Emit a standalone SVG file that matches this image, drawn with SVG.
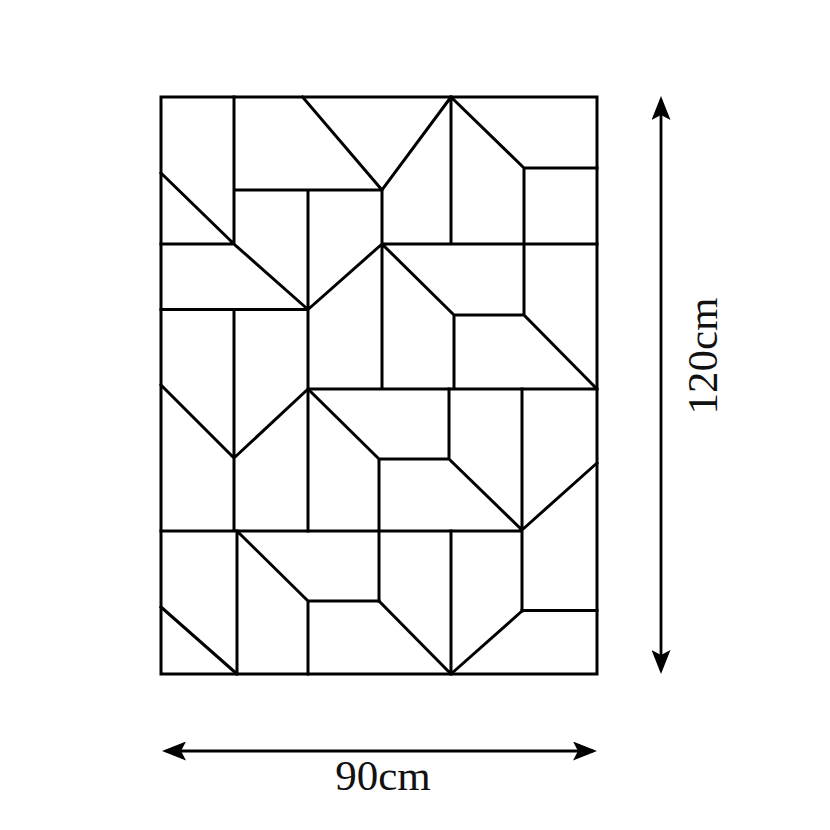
<svg xmlns="http://www.w3.org/2000/svg" width="830" height="830" viewBox="0 0 830 830">
<style>
.g{fill:none;stroke:#000;stroke-width:3;stroke-linecap:square;stroke-linejoin:miter}
.dim{fill:none;stroke:#000;stroke-width:2.8}
.lbl{font-family:"Liberation Serif","Times New Roman",serif;font-size:43px;fill:#111;text-anchor:middle}
</style>
<defs>
<marker id="ah" viewBox="0 0 24 19" refX="20" refY="9.5" markerWidth="24" markerHeight="19" markerUnits="userSpaceOnUse" orient="auto-start-reverse">
<path d="M0,0 L24,9.5 L0,19 L5,9.5 Z" fill="#000"/>
</marker>
</defs>
<rect width="830" height="830" fill="#fff"/>
<g id="pattern" class="g">
<rect x="161" y="97" width="436" height="577"/>
<path d="M234,97V244 M302.5,97L382,190 M234,190H382 M308,190V531 M161,173L234,244 M161,244H234 M234,244L308,309.5 M161,309.5H308 M308,309.5L382,244 M382,190V389 M382,190L451,97 M451,97V244 M451,97L524,168 M524,168H597 M524,168V315 M382,244H597 M382,244L454,315 M454,315H524 M454,315V389 M524,315L597,389 M308,389H597"/>
<path d="M234,309.5V531 M161,385L234,458 M234,458L308,389 M308,389L379,459 M379,459H449 M449,389V459 M449,459L522,530 M522,389V611 M522,530L597,463 M379,459V601 M161,531H522"/>
<path d="M237,531V674 M237,531L308,601 M308,601H379 M308,601V674 M161,607L237,674 M379,601L451,674 M451,531V674 M451,674L522,611 M522,610.5H597"/>
</g>
<g id="dimensions">
<line class="dim" x1="166" y1="751" x2="593" y2="751" marker-start="url(#ah)" marker-end="url(#ah)"/>
<text class="lbl" x="383" y="790">90cm</text>
<line class="dim" x1="661" y1="100" x2="661" y2="670" marker-start="url(#ah)" marker-end="url(#ah)"/>
<text class="lbl" transform="translate(717,356) rotate(-90)">120cm</text>
</g>
</svg>
